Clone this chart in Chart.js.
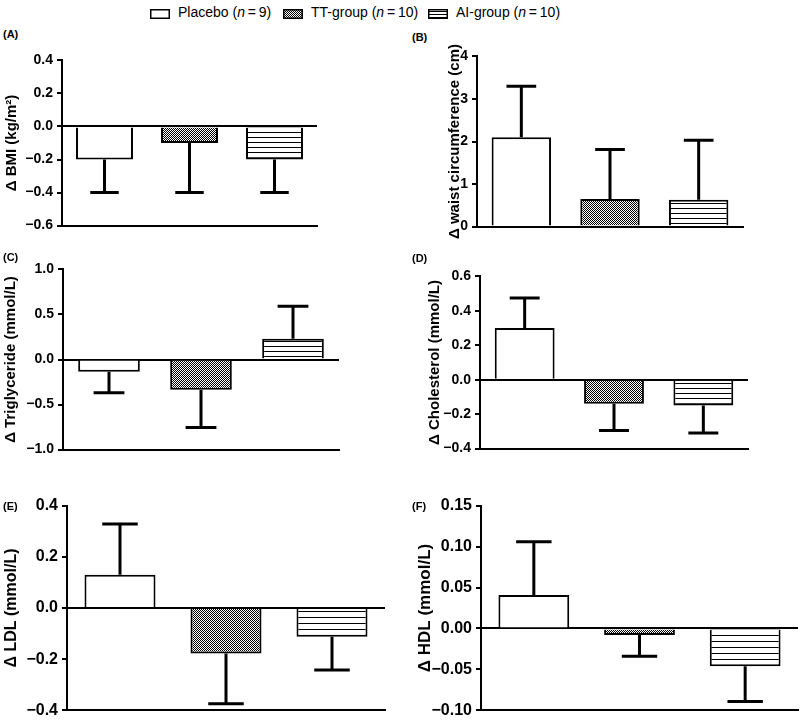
<!DOCTYPE html>
<html>
<head>
<meta charset="utf-8">
<script src="https://cdn.jsdelivr.net/npm/chart.js@4/dist/chart.umd.min.js"></script>
<style>
  body { margin: 0; background: #fff; font-family: "Liberation Sans", Arial, sans-serif; }
  #wrap { position: relative; width: 800px; height: 720px; overflow: hidden; }
  .panel { position: absolute; }
  .lbl { position: absolute; font-weight: bold; font-size: 11px; line-height: 1; color: #000; }
  .leg { position: absolute; top: 2px; font-size: 14px; line-height: 20px; color: #000; white-space: nowrap; }
  .leg canvas { position: absolute; left: 0; top: 7px; }
  .leg span { position: absolute; left: 28px; top: 0; }
</style>
</head>
<body>
<div id="wrap"></div>
<script>
// group names + sizes
const groups = ['Placebo', 'TT-group', 'AI-group'];
const groupN = [9, 10, 10];

// mean change and SD per group
const bmiMean = [-0.2, -0.1, -0.2];
const bmiSd = [0.2, 0.3, 0.2];
const waistMean = [2.1, 0.65, 0.63];
const waistSd = [1.2, 1.16, 1.4];
const trigMean = [-0.135, -0.335, 0.23];
const trigSd = [0.235, 0.42, 0.36];
const cholMean = [0.3, -0.14, -0.15];
const cholSd = [0.175, 0.155, 0.16];
const ldlMean = [0.13, -0.178, -0.112];
const ldlSd = [0.198, 0.196, 0.13];
const hdlMean = [0.041, -0.008, -0.046];
const hdlSd = [0.065, 0.026, 0.043];

// y tick values
const bmiTicks = [-0.6, -0.4, -0.2, 0, 0.2, 0.4];
const waistTicks = [0, 1, 2, 3, 4];
const trigTicks = [-1.0, -0.5, 0, 0.5, 1.0];
const cholTicks = [-0.4, -0.2, 0, 0.2, 0.4, 0.6];
const ldlTicks = [-0.4, -0.2, 0, 0.2, 0.4];
const hdlTicks = [-0.10, -0.05, 0, 0.05, 0.10, 0.15];

const FONT = '"Liberation Sans", Arial, sans-serif';
const wrap = document.getElementById('wrap');

function checker() {
    const c = document.createElement('canvas');
    c.width = 2; c.height = 2;
    const x = c.getContext('2d');
    x.fillStyle = '#fff'; x.fillRect(0, 0, 2, 2);
    x.fillStyle = '#000'; x.fillRect(0, 0, 1, 1); x.fillRect(1, 1, 1, 1);
    return x.createPattern(c, 'repeat');
}

function stripes(gap) {
    const c = document.createElement('canvas');
    c.width = 4; c.height = gap;
    const x = c.getContext('2d');
    x.fillStyle = '#fff'; x.fillRect(0, 0, 4, gap);
    x.fillStyle = '#000'; x.fillRect(0, gap - 1, 4, 1);
    return x.createPattern(c, 'repeat');
}

function fmt(v, dec) {
    const s = Math.abs(v).toFixed(dec);
    return (v < -1e-9 ? '\u2212' : '') + s;
}

// error bars drawn from bar end away from zero, through the y scale
const errorBars = {
    id: 'errorBars',
    afterDatasetsDraw(chart, args, opts) {
        const { ctx, scales: { y } } = chart;
        const meta = chart.getDatasetMeta(0);
        const values = chart.data.datasets[0].data;
        ctx.save();
        ctx.strokeStyle = '#000';
        ctx.lineWidth = opts.width;
        meta.data.forEach((bar, i) => {
            const v = values[i];
            const end = y.getPixelForValue(v + Math.sign(v) * opts.sd[i]);
            const half = bar.width / 4;
            ctx.beginPath();
            ctx.moveTo(bar.x, bar.y);
            ctx.lineTo(bar.x, end);
            ctx.moveTo(bar.x - half, end);
            ctx.lineTo(bar.x + half, end);
            ctx.stroke();
        });
        ctx.restore();
    }
};

const panels = [
    { id: 'A', mean: bmiMean, sd: bmiSd, ticks: bmiTicks, dec: 1, title: '\u0394 BMI (kg/m\u00b2)',
      size: 14, tsize: 15, left: 1, axisX: 62, right: 317, top: 60, bottom: 228, gap: 5, lx: 3, ly: 29 },
    { id: 'B', mean: waistMean, sd: waistSd, ticks: waistTicks, dec: 0, title: '\u0394 waist circumference (cm)',
      size: 14, tsize: 15, left: 444, axisX: 477, right: 743, top: 56, bottom: 229, gap: 5, lx: 412, ly: 32 },
    { id: 'C', mean: trigMean, sd: trigSd, ticks: trigTicks, dec: 1, title: '\u0394 Triglyceride (mmol/L)',
      size: 14, tsize: 15, left: 0, axisX: 63, right: 339, top: 269, bottom: 452, gap: 5, lx: 3, ly: 252 },
    { id: 'D', mean: cholMean, sd: cholSd, ticks: cholTicks, dec: 1, title: '\u0394 Cholesterol (mmol/L)',
      size: 14, tsize: 15, left: 424, axisX: 480, right: 748, top: 276, bottom: 451, gap: 5, lx: 412, ly: 253 },
    { id: 'E', mean: ldlMean, sd: ldlSd, ticks: ldlTicks, dec: 1, title: '\u0394 LDL (mmol/L)',
      size: 16, tsize: 16, left: 0, axisX: 67, right: 385, top: 504, bottom: 714, gap: 6, lx: 3, ly: 501 },
    { id: 'F', mean: hdlMean, sd: hdlSd, ticks: hdlTicks, dec: 2, title: '\u0394 HDL (mmol/L)',
      size: 16, tsize: 17, left: 413, axisX: 481, right: 798, top: 504, bottom: 714, gap: 6, lx: 412, ly: 501 }
];

panels.forEach(p => {
    const padT = 12, padB = 10, padR = 1;
    const c = document.createElement('canvas');
    c.className = 'panel';
    c.width = p.right - p.left + padR;
    c.height = p.bottom - p.top + padT + padB;
    c.style.left = p.left + 'px';
    c.style.top = (p.top - padT) + 'px';
    wrap.appendChild(c);

    const lbl = document.createElement('div');
    lbl.className = 'lbl';
    lbl.textContent = '(' + p.id + ')';
    lbl.style.left = p.lx + 'px';
    lbl.style.top = p.ly + 'px';
    wrap.appendChild(lbl);

    new Chart(c, {
        type: 'bar',
        data: {
            labels: groups,
            datasets: [{
                data: p.mean,
                backgroundColor: ['#ffffff', checker(), stripes(p.gap)],
                borderColor: '#000',
                borderWidth: 2,
                borderSkipped: 'start',
                barPercentage: 0.67,
                categoryPercentage: 1
            }]
        },
        options: {
            responsive: false,
            animation: false,
            devicePixelRatio: 1,
            layout: { padding: { top: padT, bottom: padB, left: 0, right: padR } },
            plugins: {
                legend: { display: false },
                tooltip: { enabled: false },
                errorBars: { sd: p.sd, width: 3 }
            },
            scales: {
                x: {
                    type: 'category',
                    ticks: { display: false },
                    grid: { display: false, drawTicks: false },
                    border: { display: true, color: '#000', width: 2 },
                    afterFit: s => { s.height = 0; }
                },
                y: {
                    position: 'left',
                    min: p.ticks[0],
                    max: p.ticks[p.ticks.length - 1],
                    afterFit: s => { s.width = p.axisX - p.left; },
                    afterBuildTicks: s => { s.ticks = p.ticks.map(v => ({ value: v })); },
                    ticks: {
                        color: '#000',
                        padding: 4,
                        font: { family: FONT, size: p.size, weight: 'bold' },
                        callback: v => fmt(v, p.dec)
                    },
                    grid: {
                        drawOnChartArea: true,
                        color: ctx => (ctx.tick && Math.abs(ctx.tick.value) < 1e-9) ? '#000' : 'rgba(0,0,0,0)',
                        lineWidth: 2,
                        tickColor: '#000',
                        tickWidth: 2,
                        tickLength: 5
                    },
                    border: { display: true, color: '#000', width: 2 },
                    title: {
                        display: true,
                        text: p.title,
                        color: '#000',
                        padding: { top: 2, bottom: 2 },
                        font: { family: FONT, size: p.tsize, weight: 'bold' }
                    }
                }
            }
        },
        plugins: [errorBars]
    });
});

// legend at the top
const legX = [150, 283, 428];
const fills = ['#ffffff', checker(), stripes(3)];
groups.forEach((g, i) => {
    const item = document.createElement('div');
    item.className = 'leg';
    item.style.left = legX[i] + 'px';
    const sw = document.createElement('canvas');
    sw.width = 20; sw.height = 10;
    const x = sw.getContext('2d');
    x.fillStyle = fills[i];
    x.fillRect(0, 0, 20, 10);
    x.strokeStyle = '#000';
    x.lineWidth = 1.5;
    x.strokeRect(0.75, 0.75, 18.5, 8.5);
    const txt = document.createElement('span');
    txt.innerHTML = g + ' (<i>n</i>\u2009=\u2009' + groupN[i] + ')';
    item.appendChild(sw);
    item.appendChild(txt);
    wrap.appendChild(item);
});
</script>
</body>
</html>
